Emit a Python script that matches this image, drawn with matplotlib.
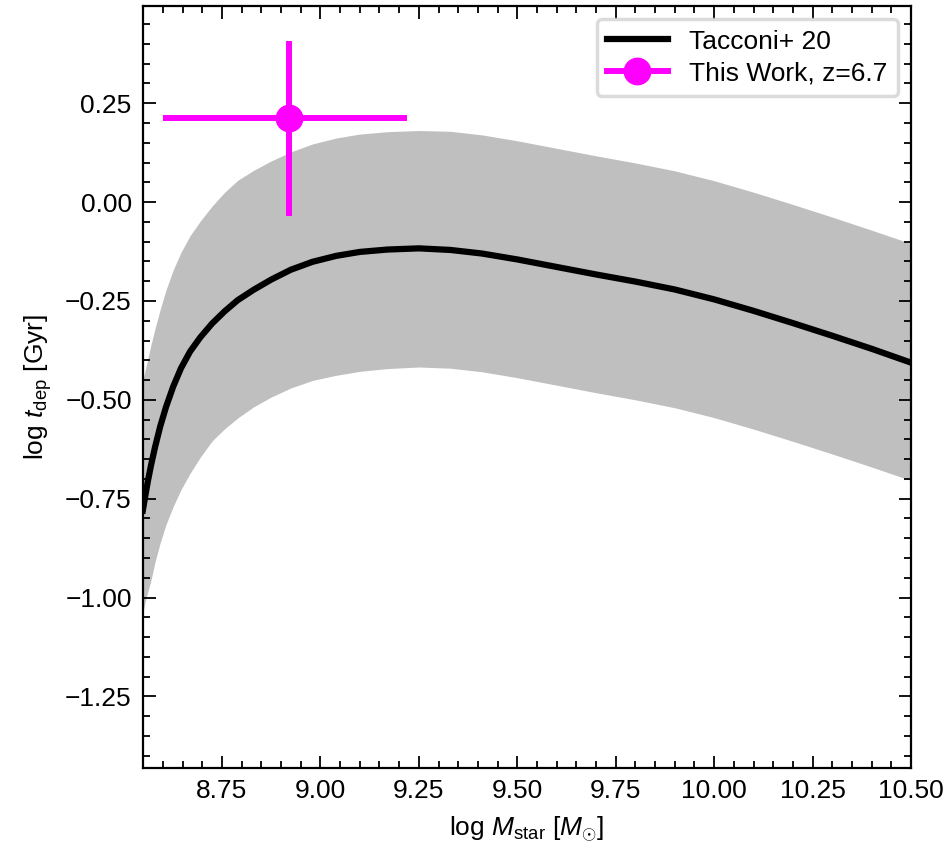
import numpy as np
import matplotlib
matplotlib.use("Agg")
import matplotlib.pyplot as plt
from matplotlib.lines import Line2D
from matplotlib.ticker import FuncFormatter

plt.rcParams['font.family'] = ['Liberation Sans', 'DejaVu Sans']
plt.rcParams['mathtext.fontset'] = 'custom'
plt.rcParams['mathtext.rm'] = 'Liberation Sans'
plt.rcParams['mathtext.it'] = 'Liberation Sans:italic'
plt.rcParams['mathtext.bf'] = 'Liberation Sans:bold'
plt.rcParams['font.size'] = 19

# Tacconi+20 relation
log_mstar = [8.549, 8.555, 8.562, 8.570, 8.580, 8.593, 8.608, 8.626, 8.646, 8.669, 8.695,
             8.725, 8.757, 8.790, 8.830, 8.875, 8.925, 8.980, 9.040, 9.100, 9.170, 9.250,
             9.330, 9.410, 9.500, 9.600, 9.700, 9.800, 9.900, 10.000, 10.100, 10.200,
             10.300, 10.400, 10.500]
tdep_mid = [-0.780, -0.745, -0.705, -0.665, -0.620, -0.568, -0.518, -0.467, -0.420, -0.378, -0.342,
            -0.307, -0.276, -0.248, -0.222, -0.196, -0.171, -0.151, -0.136, -0.126, -0.120, -0.117,
            -0.121, -0.130, -0.145, -0.164, -0.183, -0.201, -0.221, -0.246, -0.275, -0.306,
            -0.338, -0.371, -0.406]
tdep_hi = [-0.450, -0.425, -0.395, -0.360, -0.320, -0.272, -0.222, -0.172, -0.127, -0.085, -0.048,
           -0.010, 0.025, 0.055, 0.080, 0.104, 0.127, 0.147, 0.162, 0.172, 0.178, 0.181,
           0.179, 0.170, 0.155, 0.136, 0.117, 0.099, 0.079, 0.054, 0.025, -0.006,
           -0.038, -0.071, -0.105]
tdep_lo = [-1.040, -1.010, -0.985, -0.955, -0.910, -0.862, -0.815, -0.770, -0.727, -0.686, -0.645,
           -0.604, -0.573, -0.546, -0.518, -0.493, -0.470, -0.451, -0.438, -0.428, -0.421, -0.417,
           -0.420, -0.429, -0.444, -0.463, -0.482, -0.500, -0.520, -0.545, -0.574, -0.605,
           -0.637, -0.670, -0.704]

# this work
pt_x = 8.92
pt_y = 0.212
pt_xerr = [[0.32], [0.30]]
pt_yerr = [[0.246], [0.195]]

fig = plt.figure(figsize=(9.52, 8.49), dpi=100)
ax = fig.add_axes([0.150, 0.0954, 0.807, 0.8976])

ax.fill_between(log_mstar, tdep_lo, tdep_hi, color='#bfbfbf', lw=0)
ax.plot(log_mstar, tdep_mid, color='k', lw=4.5)
ax.errorbar(pt_x, pt_y, xerr=pt_xerr, yerr=pt_yerr, fmt='o', color='magenta',
            ms=19, elinewidth=4.3, capsize=0)

ax.set_xlim(8.549, 10.5)
ax.set_ylim(-1.431, 0.496)
ax.set_xticks([8.75, 9.0, 9.25, 9.5, 9.75, 10.0, 10.25, 10.5])
ax.set_yticks([-1.25, -1.0, -0.75, -0.5, -0.25, 0.0, 0.25])
ax.set_xticks(np.arange(8.55, 10.5, 0.05), minor=True)
ax.set_yticks(np.arange(-1.40, 0.5, 0.05), minor=True)
fmt = FuncFormatter(lambda v, p: ('%.2f' % v).replace('-', '\u2212'))
ax.xaxis.set_major_formatter(fmt)
ax.yaxis.set_major_formatter(fmt)
ax.tick_params(which='both', direction='in', top=True, right=True, width=1.3)
ax.tick_params(which='major', length=9, labelsize=19, pad=8)
ax.tick_params(which='minor', length=5)
for s in ax.spines.values():
    s.set_linewidth(1.6)

ax.set_xlabel(r'log $M_{\rm star}$ [$M_{\odot}$]', fontsize=19, labelpad=8)
ax.set_ylabel(r'log $t_{\rm dep}$ [Gyr]', fontsize=19, labelpad=8)

handles = [Line2D([], [], color='k', lw=4.5),
           Line2D([], [], color='magenta', lw=4.3, marker='o', ms=19)]
leg = ax.legend(handles, ['Tacconi+ 20', 'This Work, z=6.7'], loc='upper right',
                fontsize=19, handlelength=2.3, frameon=True, fancybox=True,
                borderpad=0.4, labelspacing=0.3, framealpha=0.8)
leg.get_frame().set_edgecolor('#d3d3d3')
leg.get_frame().set_linewidth(2.5)

fig.savefig('out.png', dpi=100)
